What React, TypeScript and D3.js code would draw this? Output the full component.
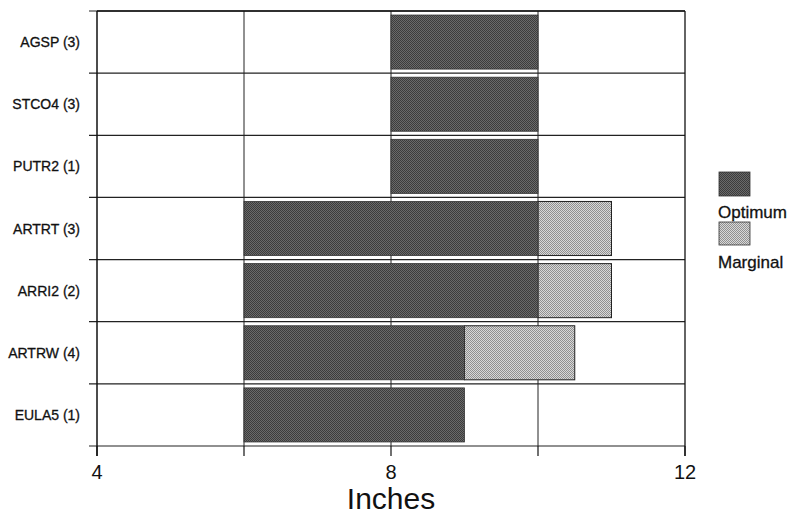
import React from "react";
import * as d3 from "d3";

const categories = ["AGSP (3)", "STCO4 (3)", "PUTR2 (1)", "ARTRT (3)", "ARRI2 (2)", "ARTRW (4)", "EULA5 (1)"];
const optimumStart = [8, 8, 8, 6, 6, 6, 6];
const optimumEnd = [10, 10, 10, 10, 10, 9, 9];
const marginalEnd = [10, 10, 10, 11, 11, 10.5, 9];
const xTickLabels = [4, 8, 12];
const xGridValues = [6, 8, 10];
const xTickMarks = [4, 6, 8, 10, 12];
const seriesNames = ["Optimum", "Marginal"];

export default function App() {
  const W = 794, H = 519;
  const left = 97, right = 685, top = 11, bottom = 446;
  const x = d3.scaleLinear().domain([4, 12]).range([left, right]);
  const y = d3.scaleBand<string>().domain(categories).range([top, bottom]).paddingInner(0.13).paddingOuter(0.065);
  const rows = d3.scaleBand<string>().domain(categories).range([top, bottom]);
  const font = "Arial, 'Liberation Sans', sans-serif";

  return (
    <svg width={W} height={H} style={{ position: "absolute", left: 0, top: 0, background: "#fff" }}>
      <defs>
        <pattern id="opt" width="2" height="2" patternUnits="userSpaceOnUse">
          <rect width="2" height="2" fill="#6a6a6a" />
          <rect width="1" height="1" fill="#3c3c3c" />
          <rect x="1" y="1" width="1" height="1" fill="#3c3c3c" />
        </pattern>
        <pattern id="mar" width="2" height="2" patternUnits="userSpaceOnUse">
          <rect width="2" height="2" fill="#d8d8d8" />
          <rect width="1" height="1" fill="#909090" />
          <rect x="1" y="1" width="1" height="1" fill="#909090" />
        </pattern>
      </defs>
      <rect width={W} height={H} fill="#fff" />
      {xGridValues.map((v) => (
        <line key={"g" + v} x1={x(v)} x2={x(v)} y1={top} y2={bottom} stroke="#222" strokeWidth={1} />
      ))}
      {categories.map((c, i) => (
        <line key={"h" + i} x1={left - 8} x2={right} y1={rows(c)!} y2={rows(c)!} stroke="#222" strokeWidth={1.2} />
      ))}
      <line x1={left - 8} x2={right} y1={bottom} y2={bottom} stroke="#222" strokeWidth={1.2} />
      {categories.map((c, i) => (
        <g key={"b" + i}>
          {marginalEnd[i] > optimumEnd[i] && (
            <rect x={x(optimumEnd[i])} y={y(c)!} width={x(marginalEnd[i]) - x(optimumEnd[i])} height={y.bandwidth()}
              fill="url(#mar)" stroke="#222" strokeWidth={1} />
          )}
          <rect x={x(optimumStart[i])} y={y(c)!} width={x(optimumEnd[i]) - x(optimumStart[i])} height={y.bandwidth()}
            fill="url(#opt)" stroke="#333" strokeWidth={0.8} />
        </g>
      ))}
      <line x1={left} x2={left} y1={top} y2={bottom + 10} stroke="#111" strokeWidth={1.5} />
      <line x1={right} x2={right} y1={top} y2={bottom + 10} stroke="#111" strokeWidth={1.3} />
      <line x1={left} x2={right} y1={top} y2={top} stroke="#111" strokeWidth={1.3} />
      {xTickMarks.map((v) => (
        <line key={"t" + v} x1={x(v)} x2={x(v)} y1={bottom} y2={bottom + 10} stroke="#111" strokeWidth={1.2} />
      ))}
      {categories.map((c) => (
        <text key={"l" + c} x={80} y={rows(c)! + rows.bandwidth() / 2 + 5} textAnchor="end" fontFamily={font} fontSize={14}
          fill="#111" stroke="#111" strokeWidth={0.3}>{c}</text>
      ))}
      {xTickLabels.map((v) => (
        <text key={"xl" + v} x={x(v)} y={479} textAnchor="middle" fontFamily={font} fontSize={20} fill="#111">{v}</text>
      ))}
      <text x={391} y={509} textAnchor="middle" fontFamily={font} fontSize={30} fill="#111">Inches</text>
      <rect x={719} y={172} width={31} height={24} fill="url(#opt)" stroke="#333" strokeWidth={0.8} />
      <text x={718} y={218} fontFamily={font} fontSize={17} fill="#111" stroke="#111" strokeWidth={0.3}>{seriesNames[0]}</text>
      <rect x={719} y={222} width={31} height={23} fill="url(#mar)" stroke="#333" strokeWidth={0.8} />
      <text x={718} y={268} fontFamily={font} fontSize={17} fill="#111" stroke="#111" strokeWidth={0.3}>{seriesNames[1]}</text>
    </svg>
  );
}
